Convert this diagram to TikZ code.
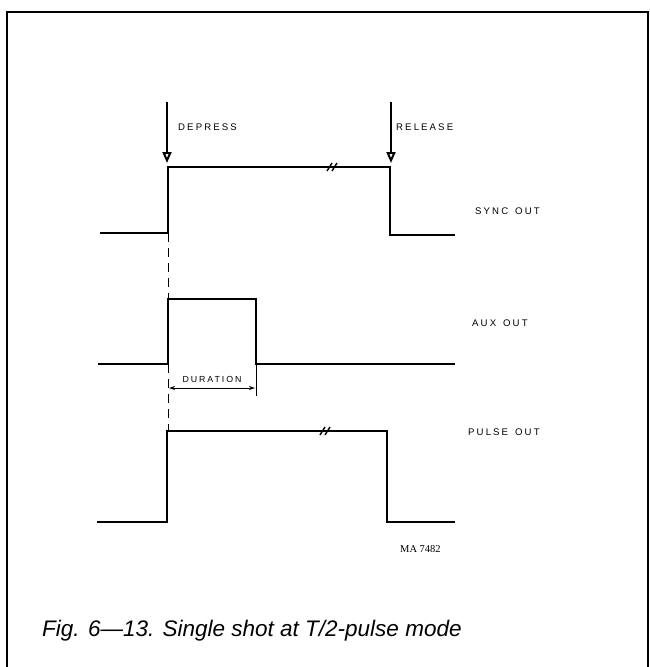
\documentclass[tikz,border=0pt]{standalone}
\usepackage{fontspec}
\setmainfont{Liberation Sans}
\newfontfamily\lblfont[LetterSpace=22]{Liberation Sans}
\newfontfamily\serfont{Liberation Serif}
\usetikzlibrary{arrows.meta}
\tikzset{
  wave/.style={line width=1.5pt, line join=miter},
  frm/.style={line width=1.8pt},
  trig/.style={line width=1.2pt, -{Triangle[open, width=9pt, length=11pt, line width=2pt]}},
  lbl/.style={font=\lblfont\fontsize{9.6}{11}\selectfont, inner sep=0pt, anchor=west},
  dimline/.style={line width=0.9pt, {Stealth[length=6pt,width=4pt]}-{Stealth[length=6pt,width=4pt]}},
  guide/.style={line width=1pt, dash pattern=on 9pt off 6pt},
  brk/.style={line width=1.4pt}
}
\begin{document}
\begin{tikzpicture}[x=1pt,y=-1pt]
\useasboundingbox (0,0) rectangle (650,667);
% frame
\draw[frm] (7,690) -- (7,12) -- (648,12) -- (648,690);
% trigger arrows
\coordinate (dtop) at (167,102);
\coordinate (dtip) at (167,163);
\coordinate (rtop) at (391,102);
\coordinate (rtip) at (391,163);
\draw[trig] (dtop) -- (dtip);
\draw[trig] (rtop) -- (rtip);
\node[lbl] (dep) at (178,127) {DEPRESS};
\node[lbl] (rel) at (396,127) {RELEASE};
% SYNC OUT
\coordinate (s0) at (100,233);
\coordinate (s1) at (168,233);
\coordinate (s2) at (168,167);
\coordinate (s3) at (390,167);
\coordinate (s4) at (390,235);
\coordinate (s5) at (455,235);
\draw[wave] (s0) -- (s1) -- (s2) -- (s3) -- (s4) -- (s5);
\draw[brk] (327,171) -- (332,163) (332,171) -- (337,163);
\node[lbl] (sync) at (475,211) {SYNC\hspace{7pt}OUT};
% guide dashed
\draw[guide] (s1) -- (168,300);
% AUX OUT
\coordinate (a0) at (98,364);
\coordinate (a1) at (168,364);
\coordinate (a2) at (168,299);
\coordinate (a3) at (256,299);
\coordinate (a4) at (256,364);
\coordinate (a5) at (455,364);
\draw[wave] (a0) -- (a1) -- (a2) -- (a3) -- (a4) -- (a5);
\node[lbl] (aux) at (472,323) {AUX\hspace{7pt}OUT};
% duration
\draw[guide] (a1) -- (168,431);
\draw[line width=1pt] (256,364) -- (256,396);
\draw[dimline] (169,388) -- (255,388);
\node[font=\lblfont\fontsize{8.8}{10}\selectfont, inner sep=0pt] (dur) at (212,379) {DURATION};
% PULSE OUT
\coordinate (p0) at (97,522);
\coordinate (p1) at (167,522);
\coordinate (p2) at (167,431);
\coordinate (p3) at (387,431);
\coordinate (p4) at (387,522);
\coordinate (p5) at (455,522);
\draw[wave] (p0) -- (p1) -- (p2) -- (p3) -- (p4) -- (p5);
\draw[brk] (320,435) -- (325,427) (325,435) -- (330,427);
\node[lbl] (pulse) at (468,432) {PULSE\hspace{7pt}OUT};
\node[font=\serfont\fontsize{10.5}{12}\selectfont, inner sep=0pt, anchor=west] (ma) at (400,549) {MA 7482};
% caption
\node[font=\itshape\fontsize{22.5}{26}\selectfont, inner sep=0pt, anchor=west] (cap) at (42,631) {Fig. 6—13. Single shot at T/2-pulse mode};
\end{tikzpicture}
\end{document}
